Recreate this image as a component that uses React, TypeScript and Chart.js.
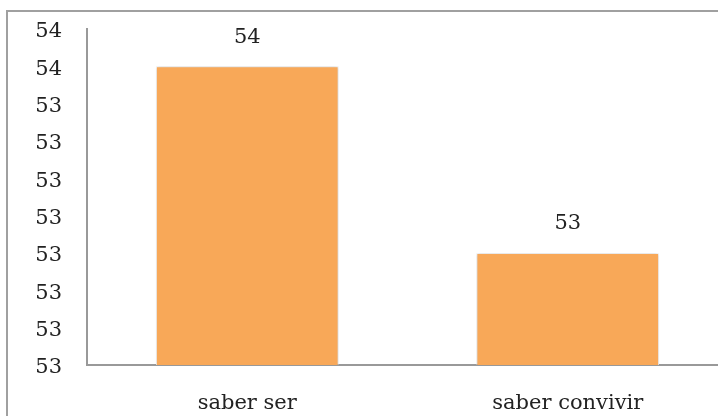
import React, { useEffect, useRef } from "react";
import { Chart, registerables } from "chart.js";

Chart.register(...registerables);

const categories = ["saber ser", "saber convivir"];
const values = [53.5, 53.0];
const yMin = 52.7;
const yMax = 53.6;
const yStep = 0.1;

const FONT = "'DejaVu Serif', serif";

const framePlugin = {
  id: "frame",
  beforeDraw(chart: any) {
    const ctx = chart.ctx;
    ctx.save();
    ctx.fillStyle = "#ffffff";
    ctx.fillRect(0, 0, chart.width, chart.height);
    ctx.strokeStyle = "#a0a0a0";
    ctx.lineWidth = 2;
    ctx.strokeRect(7, 11, chart.width + 50, chart.height + 50);
    ctx.restore();
  },
};

const shadowPlugin = {
  id: "barShadow",
  beforeDatasetsDraw(chart: any) {
    const ctx = chart.ctx;
    ctx.save();
    ctx.shadowColor = "rgba(0,0,0,0.22)";
    ctx.shadowBlur = 4;
    ctx.shadowOffsetX = 0;
    ctx.shadowOffsetY = 0;
  },
  afterDatasetsDraw(chart: any) {
    chart.ctx.restore();
  },
};

const labelPlugin = {
  id: "dataLabels",
  afterDatasetsDraw(chart: any) {
    const ctx = chart.ctx;
    const meta = chart.getDatasetMeta(0);
    ctx.save();
    ctx.font = `21px ${FONT}`;
    ctx.fillStyle = "#222222";
    ctx.textAlign = "center";
    ctx.textBaseline = "middle";
    meta.data.forEach((bar: any, i: number) => {
      const v = chart.data.datasets[0].data[i] as number;
      ctx.fillText(String(Math.round(v)), bar.x, bar.y - 29);
    });
    ctx.restore();
  },
};

export default function App() {
  const ref = useRef<HTMLCanvasElement>(null);
  useEffect(() => {
    if (!ref.current) return;
    const chart = new Chart(ref.current, {
      type: "bar",
      data: {
        labels: categories,
        datasets: [
          {
            data: values,
            backgroundColor: "#F8A858",
            borderColor: "#ffffff",
            borderWidth: 1,
            barPercentage: 0.57,
            categoryPercentage: 1,
          },
        ],
      },
      options: {
        animation: false,
        responsive: false,
        devicePixelRatio: 1,
        layout: { padding: { top: 29, left: 0, right: 0, bottom: 0 } },
        plugins: {
          legend: { display: false },
          tooltip: { enabled: false },
        },
        scales: {
          x: {
            grid: { display: false, drawTicks: false },
            border: { display: true, color: "#999999", width: 2 },
            ticks: {
              color: "#222222",
              font: { family: FONT, size: 21 },
              padding: 26,
              maxRotation: 0,
            },
            afterFit(scale: any) {
              scale.height = 51;
              scale.paddingLeft = 0;
              scale.paddingRight = 0;
            },
          },
          y: {
            min: yMin,
            max: yMax,
            grid: { display: false, drawTicks: false },
            border: { display: true, color: "#999999", width: 2 },
            ticks: {
              stepSize: yStep,
              color: "#222222",
              font: { family: FONT, size: 21 },
              padding: 25,
              labelOffset: 3,
              callback: (v: any) => String(Math.round(Number(v))),
            },
            afterFit(scale: any) {
              scale.width = 87;
              scale.paddingTop = 0;
              scale.paddingBottom = 0;
            },
          },
        },
      },
      plugins: [framePlugin, shadowPlugin, labelPlugin],
    });
    return () => chart.destroy();
  }, []);
  return (
    <div
      style={{
        position: "fixed",
        left: 0,
        top: 0,
        width: 718,
        height: 416,
        overflow: "hidden",
        background: "#fff",
      }}
    >
      <canvas ref={ref} width={728} height={416} style={{ width: 728, height: 416, display: "block" }} />
    </div>
  );
}
